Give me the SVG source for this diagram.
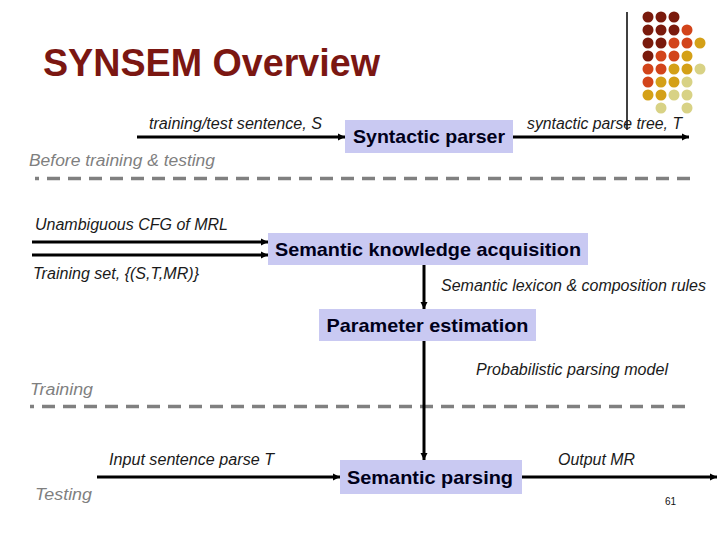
<svg xmlns="http://www.w3.org/2000/svg" width="720" height="540" viewBox="0 0 720 540">
<defs>
<marker id="ah" markerWidth="8" markerHeight="8" refX="7" refY="4" orient="auto" markerUnits="userSpaceOnUse">
<path d="M0,0.5 L7,4 L0,7.5 Z" fill="#000"/>
</marker>
<style>
.lbl{font-family:"Liberation Sans",Arial,sans-serif;font-style:italic;font-size:16px;fill:#1a1a1a}
.gray{font-family:"Liberation Sans",Arial,sans-serif;font-style:italic;font-size:16px;fill:#7f7f7f}
.box{fill:#c9c9f2}
.btxt{font-family:"Liberation Sans",Arial,sans-serif;font-weight:bold;font-size:19px;fill:#00001a;text-anchor:middle}
.conn{stroke:#000;stroke-width:3;fill:none;marker-end:url(#ah)}
.dash{stroke:#808080;stroke-width:3.5;fill:none;stroke-dasharray:13 8;stroke-dashoffset:9}
</style>
</defs>
<rect width="720" height="540" fill="#fff"/>
<g id="decor">
<line x1="627" y1="12" x2="627" y2="130" stroke="#000" stroke-width="1.5"/>
<g>
<circle cx="648" cy="17" r="5.5" fill="#7a1a0c"/><circle cx="661" cy="17" r="5.5" fill="#7a1a0c"/><circle cx="674" cy="17" r="5.5" fill="#7a1a0c"/>
<circle cx="648" cy="30" r="5.5" fill="#7a1a0c"/><circle cx="661" cy="30" r="5.5" fill="#7a1a0c"/><circle cx="674" cy="30" r="5.5" fill="#7a1a0c"/><circle cx="687" cy="30" r="5.5" fill="#d2441a"/>
<circle cx="648" cy="43" r="5.5" fill="#7a1a0c"/><circle cx="661" cy="43" r="5.5" fill="#7a1a0c"/><circle cx="674" cy="43" r="5.5" fill="#d2441a"/><circle cx="687" cy="43" r="5.5" fill="#d2441a"/><circle cx="700" cy="43" r="5.5" fill="#d4a017"/>
<circle cx="648" cy="56" r="5.5" fill="#7a1a0c"/><circle cx="661" cy="56" r="5.5" fill="#d2441a"/><circle cx="674" cy="56" r="5.5" fill="#d2441a"/><circle cx="687" cy="56" r="5.5" fill="#d4a017"/>
<circle cx="648" cy="69" r="5.5" fill="#d2441a"/><circle cx="661" cy="69" r="5.5" fill="#d2441a"/><circle cx="674" cy="69" r="5.5" fill="#d4a017"/><circle cx="687" cy="69" r="5.5" fill="#d4a017"/><circle cx="700" cy="69" r="5.5" fill="#d8d285"/>
<circle cx="648" cy="82" r="5.5" fill="#d2441a"/><circle cx="661" cy="82" r="5.5" fill="#d4a017"/><circle cx="674" cy="82" r="5.5" fill="#d4a017"/><circle cx="687" cy="82" r="5.5" fill="#d8d285"/>
<circle cx="648" cy="95" r="5.5" fill="#d4a017"/><circle cx="661" cy="95" r="5.5" fill="#d4a017"/><circle cx="674" cy="95" r="5.5" fill="#d8d285"/><circle cx="687" cy="95" r="5.5" fill="#d8d285"/>
<circle cx="661" cy="108" r="5.5" fill="#d8d285"/><circle cx="687" cy="108" r="5.5" fill="#d8d285"/>
</g>
</g>
<text x="43" y="76" font-family="Liberation Sans,Arial,sans-serif" font-weight="bold" font-size="39" fill="#7b1712" textLength="337" lengthAdjust="spacingAndGlyphs">SYNSEM Overview</text>
<g id="separators">
<line class="dash" x1="35" y1="178.5" x2="690" y2="178.5"/>
<line class="dash" x1="30" y1="406.5" x2="685" y2="406.5"/>
</g>
<g id="connectors">
<line class="conn" x1="137" y1="137" x2="345" y2="137"/>
<line class="conn" x1="513" y1="137" x2="689" y2="137"/>
<line class="conn" x1="32" y1="242" x2="268" y2="242"/>
<line class="conn" x1="32" y1="255" x2="268" y2="255"/>
<line class="conn" x1="424" y1="265" x2="424" y2="309"/>
<line class="conn" x1="424" y1="341" x2="424" y2="460"/>
<line class="conn" x1="97" y1="477" x2="340" y2="477"/>
<line class="conn" x1="522" y1="477" x2="717" y2="477"/>
</g>
<g id="syntactic-parser">
<rect class="box" x="345" y="120" width="168" height="33"/>
<text class="btxt" x="429" y="143" textLength="152" lengthAdjust="spacingAndGlyphs">Syntactic parser</text>
</g>
<g id="semantic-knowledge-acquisition">
<rect class="box" x="268" y="233" width="320" height="32"/>
<text class="btxt" x="428" y="256" textLength="306" lengthAdjust="spacingAndGlyphs">Semantic knowledge acquisition</text>
</g>
<g id="parameter-estimation">
<rect class="box" x="319" y="309" width="217" height="32"/>
<text class="btxt" x="427.5" y="332" textLength="202" lengthAdjust="spacingAndGlyphs">Parameter estimation</text>
</g>
<g id="semantic-parsing">
<rect class="box" x="340" y="460" width="182" height="34"/>
<text class="btxt" x="430" y="484" textLength="166" lengthAdjust="spacingAndGlyphs">Semantic parsing</text>
</g>
<g id="labels">
<text class="lbl" x="149" y="129" textLength="173" lengthAdjust="spacingAndGlyphs">training/test sentence, S</text>
<text class="lbl" x="527" y="129" textLength="155" lengthAdjust="spacingAndGlyphs">syntactic parse tree, T</text>
<text class="gray" x="29" y="166" textLength="186" lengthAdjust="spacingAndGlyphs">Before training &amp; testing</text>
<text class="lbl" x="35" y="230" textLength="193" lengthAdjust="spacingAndGlyphs">Unambiguous CFG of MRL</text>
<text class="lbl" x="33" y="279" textLength="166" lengthAdjust="spacingAndGlyphs">Training set, {(S,T,MR)}</text>
<text class="lbl" x="441" y="291" textLength="265" lengthAdjust="spacingAndGlyphs">Semantic lexicon &amp; composition rules</text>
<text class="lbl" x="476" y="375" textLength="192" lengthAdjust="spacingAndGlyphs">Probabilistic parsing model</text>
<text class="gray" x="30" y="395" textLength="63" lengthAdjust="spacingAndGlyphs">Training</text>
<text class="lbl" x="109" y="465" textLength="165" lengthAdjust="spacingAndGlyphs">Input sentence parse T</text>
<text class="lbl" x="558" y="465" textLength="77" lengthAdjust="spacingAndGlyphs">Output MR</text>
<text class="gray" x="35" y="500" textLength="57" lengthAdjust="spacingAndGlyphs">Testing</text>
<text x="665" y="505" font-family="Liberation Sans,Arial,sans-serif" font-size="10" fill="#111">61</text>
</g>
</svg>
